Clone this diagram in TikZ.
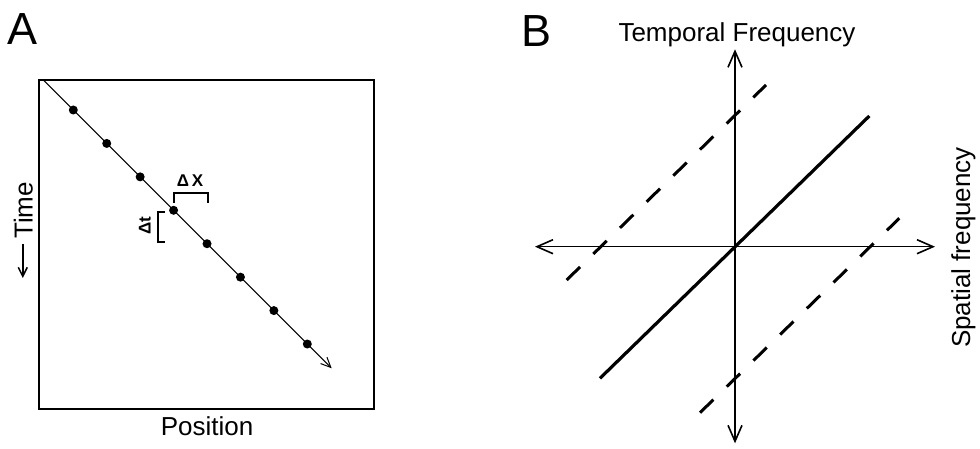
\documentclass[tikz,border=0pt]{standalone}
\usepackage{fontspec}
\setmainfont{Liberation Sans}
\usetikzlibrary{arrows.meta}
\begin{document}
\begin{tikzpicture}[x=1pt,y=-1pt,
  lab/.style={font=\fontsize{26}{30}\selectfont, inner sep=0pt, anchor=base},
  panel/.style={font=\fontsize{45}{50}\selectfont, inner sep=0pt, anchor=base},
  small/.style={font=\bfseries\fontsize{17}{20}\selectfont, inner sep=0pt, anchor=base},
  dotnode/.style={circle, fill=black, inner sep=0pt, minimum size=9pt},
  bigbarb/.tip={Straight Barb[length=16pt,width=14pt,line width=1.6pt]},
  smallbarb/.tip={Straight Barb[length=10pt,width=9pt,line width=1pt]},
  axisline/.style={line width=1.6pt, bigbarb-bigbarb},
  boxline/.style={line width=2pt},
  bracket/.style={line width=2pt},
  solidline/.style={line width=3.2pt},
  dashline/.style={line width=3pt, dash pattern=on 18.7pt off 18.6pt}
]
\useasboundingbox (0,0) rectangle (980,449);

% ---------- Panel A ----------
\node[panel] (labA) at (22.5,45) {A};
\draw[boxline] (39,80) rectangle (374,409);
\coordinate (mstart) at (44,80.7);
\coordinate (mend) at (331.7,368.3);
\draw[line width=1pt, -smallbarb] (mstart) -- (mend);
\foreach \i in {0,...,7}{
  \node[dotnode] (d\i) at ({73.3+33.43*\i},{110+33.43*\i}) {};
}
% Delta x bracket
\coordinate (bx1) at (174,202.7);
\coordinate (bx2) at (174,193.3);
\coordinate (bx3) at (208.3,193.3);
\coordinate (bx4) at (208.3,202.7);
\draw[bracket] (bx1) -- (bx2) -- (bx3) -- (bx4);
\node[small] (dx) at (190,186.7) {Δ\,X};
% Delta t bracket
\coordinate (bt1) at (165,211.7);
\coordinate (bt2) at (158.3,211.7);
\coordinate (bt3) at (158.3,241.7);
\coordinate (bt4) at (165,241.7);
\draw[bracket] (bt1) -- (bt2) -- (bt3) -- (bt4);
\node[small, rotate=90] (dt) at (150.7,226) {Δt};
% axis labels
\node[lab] (pos) at (207,435) {Position};
\node[lab, rotate=90] (time) at (32.5,210.5) {Time};
\coordinate (ta1) at (22.8,244);
\coordinate (ta2) at (22.8,278);
\draw[line width=1.5pt, -{Straight Barb[length=9pt,width=9pt,line width=1.5pt]}] (ta1) -- (ta2);

% ---------- Panel B ----------
\node[panel] (labB) at (536.7,46.7) {B};
\node[lab] (tf) at (737,41.7) {Temporal Frequency};
\node[lab, rotate=90] (sf) at (970,247.5) {Spatial frequency};
\coordinate (o) at (735,246.7);
\coordinate (hl) at (535,246.7);
\coordinate (hr) at (935,246.7);
\coordinate (vt) at (735,49.3);
\coordinate (vb) at (735,443.3);
\draw[axisline] (hl) -- (hr);
\draw[axisline] (vb) -- (vt);
\coordinate (s1) at (600,378.3);
\coordinate (s2) at (869.3,116);
\draw[solidline] (s1) -- (s2);
\coordinate (u1) at (566.7,280);
\coordinate (u2) at (766,85);
\draw[dashline] (u1) -- (u2);
\coordinate (l1) at (700,412.7);
\coordinate (l2) at (899.3,218.3);
\draw[dashline] (l1) -- (l2);
\end{tikzpicture}
\end{document}
